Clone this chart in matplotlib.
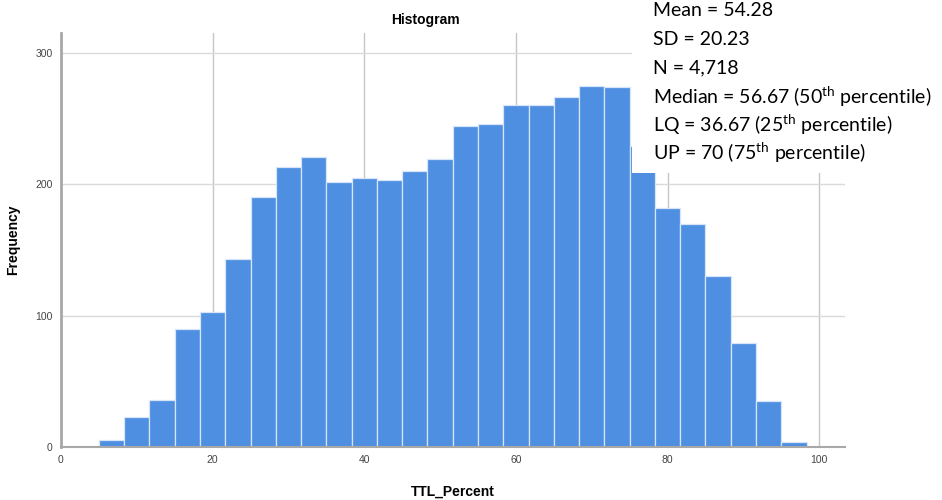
import matplotlib.pyplot as plt
from matplotlib.patches import Rectangle
import numpy as np

plt.rcParams['font.family'] = ['Liberation Sans', 'DejaVu Sans']
plt.rcParams['mathtext.fontset'] = 'custom'
plt.rcParams['mathtext.rm'] = 'Lato'

# frequencies, bins of width 10/3 starting at 5
counts = [5, 23, 36, 90, 103, 143, 190, 213, 221, 202, 205, 203, 210, 219,
          244, 246, 260, 260, 266, 275, 274, 229, 182, 170, 130, 79, 35, 4]
bin_start = 5
bin_width = 10 / 3
xticks = [0, 20, 40, 60, 80, 100]
yticks = [0, 100, 200, 300]
stats_lines = [
    "Mean = 54.28",
    "SD = 20.23",
    "N = 4,718",
    r"Median = 56.67 (50$^{\mathrm{th}}$ percentile)",
    r"LQ = 36.67 (25$^{\mathrm{th}}$ percentile)",
    r"UP = 70 (75$^{\mathrm{th}}$ percentile)",
]

fig = plt.figure(figsize=(9.42, 5), dpi=100)
ax = fig.add_axes([61 / 942, 1 - 447 / 500, 784 / 942, 414 / 500])

edges = bin_start + bin_width * np.arange(len(counts))
ax.bar(edges, counts, width=bin_width, align='edge', color='#4f8fe2',
       edgecolor='#d6e6f8', linewidth=0.9, zorder=2)

ax.set_xlim(0, 103.4)
ax.set_ylim(0, 315)
ax.set_xticks(xticks)
ax.set_yticks(yticks)
ax.tick_params(length=0, labelsize=7.5, labelcolor='#444444', pad=6)

ax.grid(axis='y', color='#dadada', linewidth=1, zorder=0)
ax.grid(axis='x', color='#c6c6c6', linewidth=1, zorder=0)
ax.set_axisbelow(True)

for s in ['top', 'right']:
    ax.spines[s].set_visible(False)
ax.spines['left'].set_color('#a8a8a8')
ax.spines['left'].set_linewidth(2)
ax.spines['bottom'].set_color('#a8a8a8')
ax.spines['bottom'].set_linewidth(1.5)

ax.set_xlabel('TTL_Percent', fontsize=10, fontweight='bold', labelpad=14)
ax.set_ylabel('Frequency', fontsize=10, fontweight='bold', labelpad=11)

fig.text(425 / 942, 1 - 20 / 500, 'Histogram', fontsize=10,
         fontweight='bold', ha='center', va='center')

# white box with the summary statistics
fig.add_artist(Rectangle((632 / 942, 1 - 173 / 500), 1, 1,
                         transform=fig.transFigure, facecolor='white',
                         edgecolor='none', zorder=5))
for i, line in enumerate(stats_lines):
    fig.text(653 / 942, 1 - (11 + 28.4 * i) / 500, line, fontsize=14,
             family='Lato', ha='left', va='center', zorder=6)

fig.savefig('out.png', dpi=100)
